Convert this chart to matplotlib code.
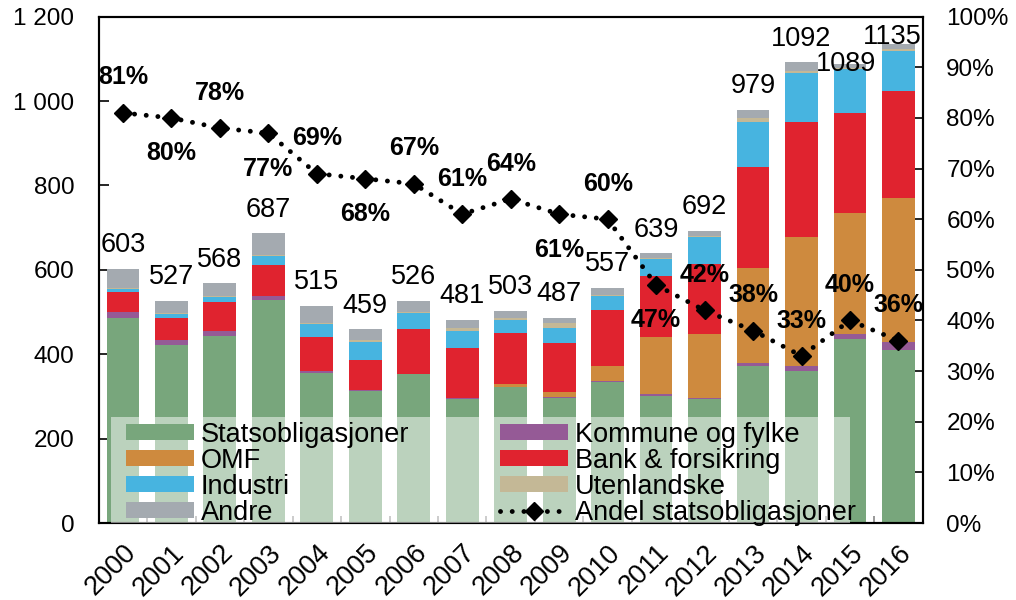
import matplotlib
matplotlib.use('Agg')
import matplotlib.pyplot as plt
from matplotlib.patches import Patch, Rectangle
from matplotlib.lines import Line2D
from matplotlib.ticker import FuncFormatter, FixedLocator
import numpy as np

plt.rcParams['font.family'] = ['Liberation Sans', 'DejaVu Sans']

years = [str(y) for y in range(2000, 2017)]
stat = [487, 421, 443, 529, 355, 312, 352, 293, 322, 297, 334, 302, 293, 372, 360, 436, 409]
kommune = [12, 12, 13, 8, 6, 3, 2, 3, 1, 2, 2, 4, 4, 8, 12, 13, 20]
omf = [0, 0, 0, 0, 0, 0, 0, 0, 6, 12, 36, 134, 151, 224, 306, 286, 342]
bank = [48, 54, 67, 74, 79, 72, 105, 119, 122, 115, 134, 146, 167, 239, 273, 236, 254]
industri = [8, 9, 12, 21, 32, 43, 38, 40, 29, 37, 31, 39, 62, 108, 116, 104, 94]
utenl = [2, 2, 4, 4, 2, 3, 4, 7, 6, 10, 4, 3, 4, 8, 5, 4, 4]
andre = [46, 29, 29, 51, 41, 26, 25, 19, 17, 14, 16, 11, 11, 20, 20, 10, 12]
totals = [603, 527, 568, 687, 515, 459, 526, 481, 503, 487, 557, 639, 692, 979, 1092, 1089, 1135]
share = [81, 80, 78, 77, 69, 68, 67, 61, 64, 61, 60, 47, 42, 38, 33, 40, 36]

series_names = ['Statsobligasjoner', 'Kommune og fylke', 'OMF', 'Bank & forsikring',
                'Industri', 'Utenlandske', 'Andre']
series_vals = [stat, kommune, omf, bank, industri, utenl, andre]
colors = ['#78A67C', '#955A96', '#CE8A3E', '#E0232F', '#47B4E0', '#C4B896', '#A4AAB0']

# label placement (style only)
pct_side = [1, -1, 1, -1, 1, -1, 1, 1, 1, -1, 1, -1, 1, 1, 1, 1, 1]
tot_dy = [17] * 15 + [0, 5]
tot_dx = [0] * 15 + [-3, -4.5]

fig = plt.figure(figsize=(10.16, 6.0), dpi=100)
ax = fig.add_axes([0.0971, 0.1283, 0.9082 - 0.0971, 0.9722 - 0.1283])
ax2 = ax.twinx()

x = np.arange(len(years))
bottom = np.zeros(len(years))
handles = {}
for name, vals, c in zip(series_names, series_vals, colors):
    v = np.array(vals, dtype=float)
    ax.bar(x, v, bottom=bottom, width=0.675, color=c, linewidth=0, zorder=2)
    bottom += v
    handles[name] = Patch(facecolor=c, edgecolor='none')

for i, t in enumerate(totals):
    ax.annotate(str(t), (x[i], t), xytext=(tot_dx[i], tot_dy[i]), textcoords='offset points',
                ha='center', va='center', fontsize=19.5, zorder=6)

ax.set_xlim(-0.5, len(years) - 0.5)
ax.set_ylim(0, 1200)
ax.yaxis.set_major_locator(FixedLocator(np.arange(0, 1201, 200)))
ax.yaxis.set_major_formatter(FuncFormatter(lambda v, p: f"{int(v):,}".replace(",", " ")))
ax.tick_params(axis='y', direction='in', length=7, width=1.2, labelsize=17.5, pad=17.5)
ax.set_xticks(x)
ax.set_xticklabels(years, rotation=45, ha='right', va='top', rotation_mode='anchor')
ax.tick_params(axis='x', which='major', length=0, labelsize=19.5, pad=12)
ax.xaxis.set_minor_locator(FixedLocator(np.arange(-0.5, len(years) + 0.5, 1)))
ax.tick_params(axis='x', which='minor', direction='in', length=5, width=1.2, color='#888888')

# share line
ax2.plot(x, share, color='black', linestyle=(0, (0.01, 2.4)), linewidth=3.5,
         dash_capstyle='round', marker='D', markersize=9.5, zorder=5)
for i, s in enumerate(share):
    ax2.annotate(f"{s}%", (x[i], s), xytext=(0, 25.5 * pct_side[i]), textcoords='offset points',
                 ha='center', va='center', fontsize=18, fontweight='bold', zorder=7)
ax2.set_ylim(0, 100)
ax2.yaxis.set_major_locator(FixedLocator(np.arange(0, 101, 10)))
ax2.yaxis.set_major_formatter(FuncFormatter(lambda v, p: f"{int(v)}%"))
ax2.tick_params(axis='y', direction='in', length=5.5, width=1.2, labelsize=17.5, pad=17)

for a in (ax, ax2):
    for sp in a.spines.values():
        sp.set_linewidth(1.5)

# legend
bg = Rectangle((0.0146, 0.0), 0.897, 0.21, transform=ax2.transAxes, facecolor='white',
               alpha=0.5, edgecolor='none', zorder=8)
ax2.add_patch(bg)
line_handle = Line2D([], [], color='black', linestyle=(0, (0.01, 2.4)), linewidth=3.5,
                     dash_capstyle='round', marker='D', markersize=9.5)
order = ['Statsobligasjoner', 'OMF', 'Industri', 'Andre',
         'Kommune og fylke', 'Bank & forsikring', 'Utenlandske']
h = [handles[n] for n in order] + [line_handle]
labels = order + ['Andel statsobligasjoner']
leg = ax2.legend(h, labels, ncol=2, loc='lower left', bbox_to_anchor=(0.0331, -0.005),
                 borderaxespad=0, borderpad=0, frameon=False, fontsize=19.5,
                 handlelength=2.5, handleheight=0.49, handletextpad=0.27,
                 labelspacing=0.0, columnspacing=3.35)
leg.set_zorder(9)

fig.savefig('out.png', dpi=100)
